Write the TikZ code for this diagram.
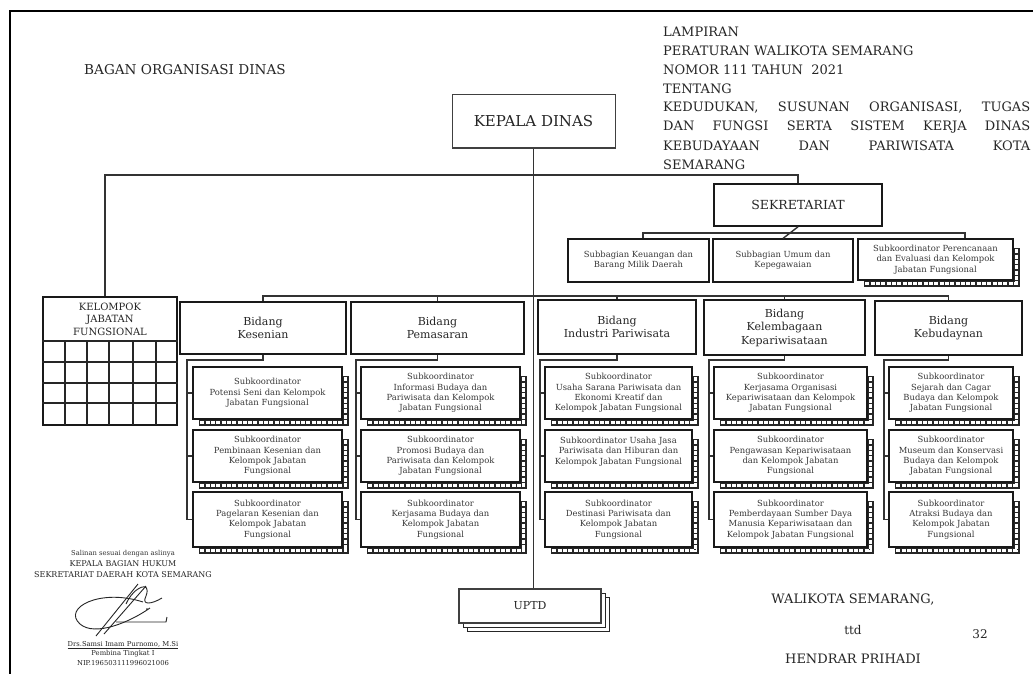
\documentclass[tikz,border=0pt]{standalone}
\usepackage{fontspec}
\setmainfont{DejaVu Serif}
\newcommand\fsH{\fontsize{13}{15}\selectfont}
\newcommand\fsHb{\fontsize{13.6}{15}\selectfont}
\newcommand\fsK{\fontsize{15}{17}\selectfont}
\newcommand\fsSek{\fontsize{12.5}{14}\selectfont}
\newcommand\fsB{\fontsize{11}{13.5}\selectfont}
\newcommand\fsS{\fontsize{8.4}{10.4}\selectfont}
\newcommand\fsKJ{\fontsize{10}{12.5}\selectfont}
\newcommand\fsU{\fontsize{11}{13}\selectfont}
\newcommand\fsT{\fontsize{8}{10}\selectfont}
\newcommand\fsTs{\fontsize{6.8}{9}\selectfont}
\newcommand\bx[7]{\node[#2, minimum width={(#5-#3)*1pt}, minimum height={(#6-#4)*1pt}] (#1) at ({(#3+#5)/2},{(#4+#6)/2}) {#7};}
\newcommand\ladder[1]{%
 \draw[line width=6pt, black!85] ([shift={(3,10)}]#1.north east) -- ([shift={(3,6)}]#1.south east);
 \draw[line width=6pt, black!85] ([shift={(7,3)}]#1.south west) -- ([shift={(6,3)}]#1.south east);
 \draw[line width=3pt, white, dash pattern=on 4pt off 1.3pt] ([shift={(3,11)}]#1.north east) -- ([shift={(3,4.5)}]#1.south east);
 \draw[line width=3pt, white, dash pattern=on 4pt off 1.3pt] ([shift={(8,3)}]#1.south west) -- ([shift={(4.5,3)}]#1.south east);
}
\begin{document}
\begin{tikzpicture}[x=1pt,y=-1pt,
  cline/.style={line width=1.4pt, draw=black!80},
  kdbox/.style={draw=black!75, line width=1pt, fill=white, inner sep=0pt, align=center, font=\fsK, text=black!85},
  bidbox/.style={draw=black!90, line width=1.6pt, fill=white, inner sep=0pt, align=center, font=\fsB, text=black!85},
  subbox/.style={draw=black!90, line width=1.2pt, fill=white, inner sep=0pt, align=center, font=\fsS, text=black!78},
  txt/.style={inner sep=0pt, text=black!85, font=\fsH},
  gridln/.style={line width=1.8pt, draw=black!85}]
\useasboundingbox (0,0) rectangle (1033,674);
\fill[white] (0,0) rectangle (1033,674);
% frame
\draw[line width=1.2pt] (10,674) -- (10,11) -- (1033,11);

% header texts
\node[txt, font=\fsHb, anchor=west] (bagan) at (84,70) {BAGAN ORGANISASI DINAS};
\node[txt, anchor=west] (t1) at (663,32) {LAMPIRAN};
\node[txt, anchor=west] (t2) at (663,51) {PERATURAN WALIKOTA SEMARANG};
\node[txt, anchor=west] (t3) at (663,70) {NOMOR 111 TAHUN\ \ 2021};
\node[txt, anchor=west] (t4) at (663,89) {TENTANG};
\node[txt, anchor=west] (t5) at (663,108) {\makebox[367pt][s]{KEDUDUKAN, SUSUNAN ORGANISASI, TUGAS}};
\node[txt, anchor=west] (t6) at (663,127) {\makebox[367pt][s]{DAN FUNGSI SERTA SISTEM KERJA DINAS}};
\node[txt, anchor=west] (t7) at (663,146) {\makebox[367pt][s]{KEBUDAYAAN DAN PARIWISATA KOTA}};
\node[txt, anchor=west] (t8) at (663,165) {SEMARANG};

% top level
\bx{kd}{kdbox}{452}{95}{615}{148}{KEPALA DINAS}
\bx{sek}{bidbox, font=\fsSek}{714}{184}{882}{226}{SEKRETARIAT}

% kelompok jabatan fungsional
\bx{kjf}{draw=black!90, line width=1.6pt, fill=white, inner sep=0pt}{43}{297}{177}{425}{}
\node[inner sep=0pt, align=center, font=\fsKJ, text=black!85] (kjft) at (110,319) {KELOMPOK\\JABATAN\\FUNGSIONAL};
\draw[gridln] (kjf.west |- 0,341) -- (kjf.east |- 0,341);
\foreach \gy in {362,383,403} \draw[gridln] (kjf.west |- 0,\gy) -- (kjf.east |- 0,\gy);
\foreach \gx in {65,87,109,133,156} \draw[gridln] (\gx,341) -- (\gx,425);

% sekretariat subs
\bx{ss1}{subbox}{568}{239}{709}{282}{Subbagian Keuangan dan\\Barang Milik Daerah}
\bx{ss2}{subbox}{713}{239}{853}{282}{Subbagian Umum dan\\Kepegawaian}
\bx{ss3}{subbox}{858}{239}{1013}{280}{Subkoordinator Perencanaan\\dan Evaluasi dan Kelompok\\Jabatan Fungsional}
\ladder{ss3}

% bidang
\bx{b1}{bidbox}{180}{302}{346}{354}{Bidang\\Kesenian}
\bx{b2}{bidbox}{351}{302}{524}{354}{Bidang\\Pemasaran}
\bx{b3}{bidbox}{538}{300}{696}{354}{Bidang\\Industri Pariwisata}
\bx{b4}{bidbox}{704}{300}{865}{355}{Bidang\\Kelembagaan\\Kepariwisataan}
\bx{b5}{bidbox}{875}{301}{1022}{355}{Bidang\\Kebudaynan}

% column 1
\bx{s11}{subbox}{193}{367}{342}{419}{Subkoordinator\\Potensi Seni dan Kelompok\\Jabatan Fungsional}
\bx{s12}{subbox}{193}{430}{342}{482}{Subkoordinator\\Pembinaan Kesenian dan\\Kelompok Jabatan\\Fungsional}
\bx{s13}{subbox}{193}{492}{342}{547}{Subkoordinator\\Pagelaran Kesenian dan\\Kelompok Jabatan\\Fungsional}
% column 2
\bx{s21}{subbox}{361}{367}{520}{419}{Subkoordinator\\Informasi Budaya dan\\Pariwisata dan Kelompok\\Jabatan Fungsional}
\bx{s22}{subbox}{361}{430}{520}{482}{Subkoordinator\\Promosi Budaya dan\\Pariwisata dan Kelompok\\Jabatan Fungsional}
\bx{s23}{subbox}{361}{492}{520}{547}{Subkoordinator\\Kerjasama Budaya dan\\Kelompok Jabatan\\Fungsional}
% column 3
\bx{s31}{subbox}{545}{367}{692}{419}{Subkoordinator\\Usaha Sarana Pariwisata dan\\Ekonomi Kreatif dan\\Kelompok Jabatan Fungsional}
\bx{s32}{subbox}{545}{430}{692}{482}{Subkoordinator Usaha Jasa\\Pariwisata dan Hiburan dan\\Kelompok Jabatan Fungsional\\~}
\bx{s33}{subbox}{545}{492}{692}{547}{Subkoordinator\\Destinasi Pariwisata dan\\Kelompok Jabatan\\Fungsional}
% column 4
\bx{s41}{subbox}{714}{367}{867}{419}{Subkoordinator\\Kerjasama Organisasi\\Kepariwisataan dan Kelompok\\Jabatan Fungsional}
\bx{s42}{subbox}{714}{430}{867}{482}{Subkoordinator\\Pengawasan Kepariwisataan\\dan Kelompok Jabatan\\Fungsional}
\bx{s43}{subbox}{714}{492}{867}{547}{Subkoordinator\\Pemberdayaan Sumber Daya\\Manusia Kepariwisataan dan\\Kelompok Jabatan Fungsional}
% column 5
\bx{s51}{subbox}{889}{367}{1013}{419}{Subkoordinator\\Sejarah dan Cagar\\Budaya dan Kelompok\\Jabatan Fungsional}
\bx{s52}{subbox}{889}{430}{1013}{482}{Subkoordinator\\Museum dan Konservasi\\Budaya dan Kelompok\\Jabatan Fungsional}
\bx{s53}{subbox}{889}{492}{1013}{547}{Subkoordinator\\Atraksi Budaya dan\\Kelompok Jabatan\\Fungsional}

\foreach \c in {1,...,5}{\foreach \r in {1,2,3}{\ladder{s\c\r}}}

% UPTD with stacked shadow
\draw[line width=1pt, fill=white, draw=black!85] (467,597) rectangle (609,631);
\draw[line width=1pt, fill=white, draw=black!85] (463,593) rectangle (605,627);
\bx{uptd}{kdbox, font=\fsU, line width=1.2pt}{459}{589}{601}{623}{UPTD}

% connectors
\coordinate (topL) at (105,175);
\draw[cline] (topL |- kjf.north) -- (topL) -- (topL -| sek.north) -- (sek.north);
\draw[cline] (kd.south) -- (kd.south |- uptd.north);
\coordinate (sbL) at (643,233);
\coordinate (sbR) at (965,233);
\draw[cline] (sek.south) -- (ss2.north);
\draw[cline] (sbL |- ss1.north) -- (sbL) -- (sbR) -- (sbR |- ss3.north);
\coordinate (rowL) at (263,296);
\draw[cline] (b1.north) -- (b1.north |- rowL) -- (b5.north |- rowL) -- (b5.north);
\foreach \b in {b2,b3,b4} \draw[cline] (\b.north) -- (\b.north |- rowL);

\coordinate (r1) at (187,360);
\coordinate (r2) at (356,360);
\coordinate (r3) at (540,360);
\coordinate (r4) at (709,360);
\coordinate (r5) at (884,360);
\foreach \c in {1,...,5}{
  \draw[cline] (b\c.south) |- (r\c) |- (s\c3.west);
  \draw[cline] (r\c |- s\c1.west) -- (s\c1.west);
  \draw[cline] (r\c |- s\c2.west) -- (s\c2.west);
}

% signature block
\node[inner sep=0pt, font=\fsTs, text=black!80] (sal) at (123,554) {Salinan sesuai dengan aslinya};
\node[inner sep=0pt, font=\fsT, text=black!85] (kbh) at (123,564) {KEPALA BAGIAN HUKUM};
\node[inner sep=0pt, font=\fsT, text=black!85] (sdk) at (123,575) {SEKRETARIAT DAERAH KOTA SEMARANG};
\draw[line width=0.9pt, black!85]
  (143,602) .. controls (100,588) and (62,608) .. (80,624)
  .. controls (95,637) and (130,622) .. (150,608);
\draw[line width=0.9pt, black!85] (96,636) -- (138,584);
\draw[line width=0.9pt, black!85] (104,634) -- (146,586);
\draw[line width=0.9pt, black!85] (126,604) .. controls (134,586) and (152,580) .. (146,596)
  .. controls (141,606) and (152,604) .. (162,598);
\draw[line width=0.9pt, black!85] (116,622) -- (166,622) -- (167,617);
\fill[black!85] (147,609) circle (1pt);
\node[inner sep=0pt, font=\fsTs, text=black!85] (nm) at (123,645) {\underline{Drs.Samsi Imam Purnomo, M.Si}};
\node[inner sep=0pt, font=\fsTs, text=black!85] (pb) at (123,654) {Pembina Tingkat I};
\node[inner sep=0pt, font=\fsTs, text=black!85] (nip) at (123,663) {NIP.196503111996021006};

% walikota block
\node[txt] (wk) at (853,600) {WALIKOTA SEMARANG,};
\node[txt, font=\fontsize{12}{14}\selectfont] (ttd) at (853,630) {ttd};
\node[txt, font=\fontsize{12}{14}\selectfont] (pg) at (980,634) {32};
\node[txt] (hp) at (853,659) {HENDRAR PRIHADI};
\end{tikzpicture}
\end{document}
